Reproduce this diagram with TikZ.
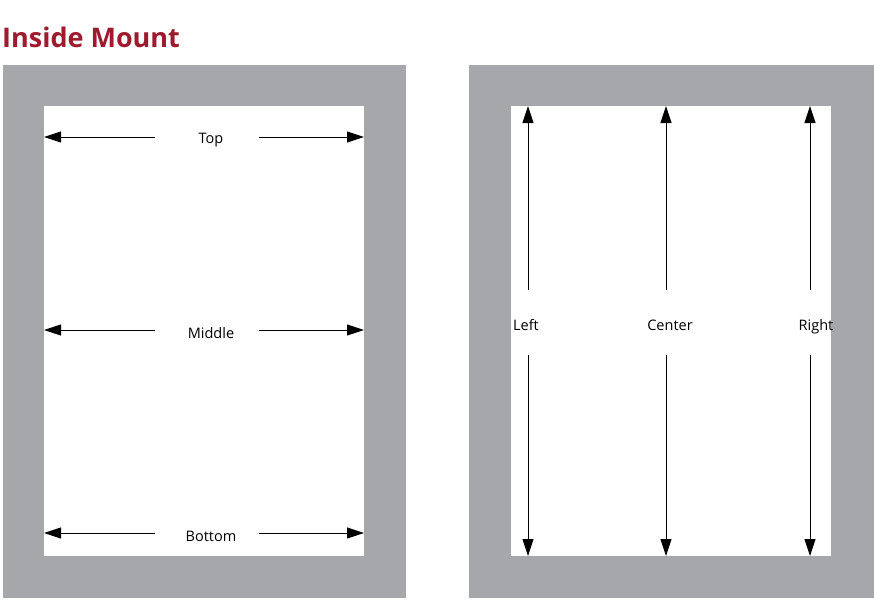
\documentclass[tikz,border=0pt]{standalone}
\usepackage{fontspec}
\setmainfont{Open Sans}
\usetikzlibrary{arrows.meta}
\definecolor{frame}{HTML}{A6A7AB}
\definecolor{title}{HTML}{9E1B2E}
\begin{document}
\begin{tikzpicture}[x=1pt,y=-1pt,
  arr/.style={-{Triangle[length=17pt,width=11pt]},line width=0.9pt},
  lab/.style={font=\fontsize{14.5}{16}\selectfont,inner sep=0pt}]
\useasboundingbox (0,0) rectangle (874,600);
\node[anchor=west,inner sep=0pt,text=title,font=\bfseries\fontsize{27}{30}\selectfont] (t) at (2,37) {Inside Mount};
\fill[frame] (3,65) rectangle (406,598);
\fill[white] (44,106) rectangle (364,556);
\fill[frame] (469,65) rectangle (874,598);
\fill[white] (511,106) rectangle (831,556);
% left frame
\foreach \n/\y/\t in {a/137/Top,b/330/Middle,c/533/Bottom}{
  \node[lab] (\n) at (211,\y+3) {\t};
  \coordinate (\n l) at (44,\y);
  \coordinate (\n r) at (364,\y);
  \coordinate (\n s) at (155,\y);
  \coordinate (\n e) at (259,\y);
  \draw[arr] (\n s) -- (\n l);
  \draw[arr] (\n e) -- (\n r);
}
% right frame
\foreach \n/\x/\lx/\t in {d/528/526/Left,e/666/670/Center,f/810/816/Right}{
  \node[lab,anchor=base] (\n) at (\lx,330) {\t};
  \coordinate (\n t) at (\x,106);
  \coordinate (\n b) at (\x,556);
  \coordinate (\n u) at (\x,290);
  \coordinate (\n d) at (\x,355);
  \draw[arr] (\n u) -- (\n t);
  \draw[arr] (\n d) -- (\n b);
}
\end{tikzpicture}
\end{document}
